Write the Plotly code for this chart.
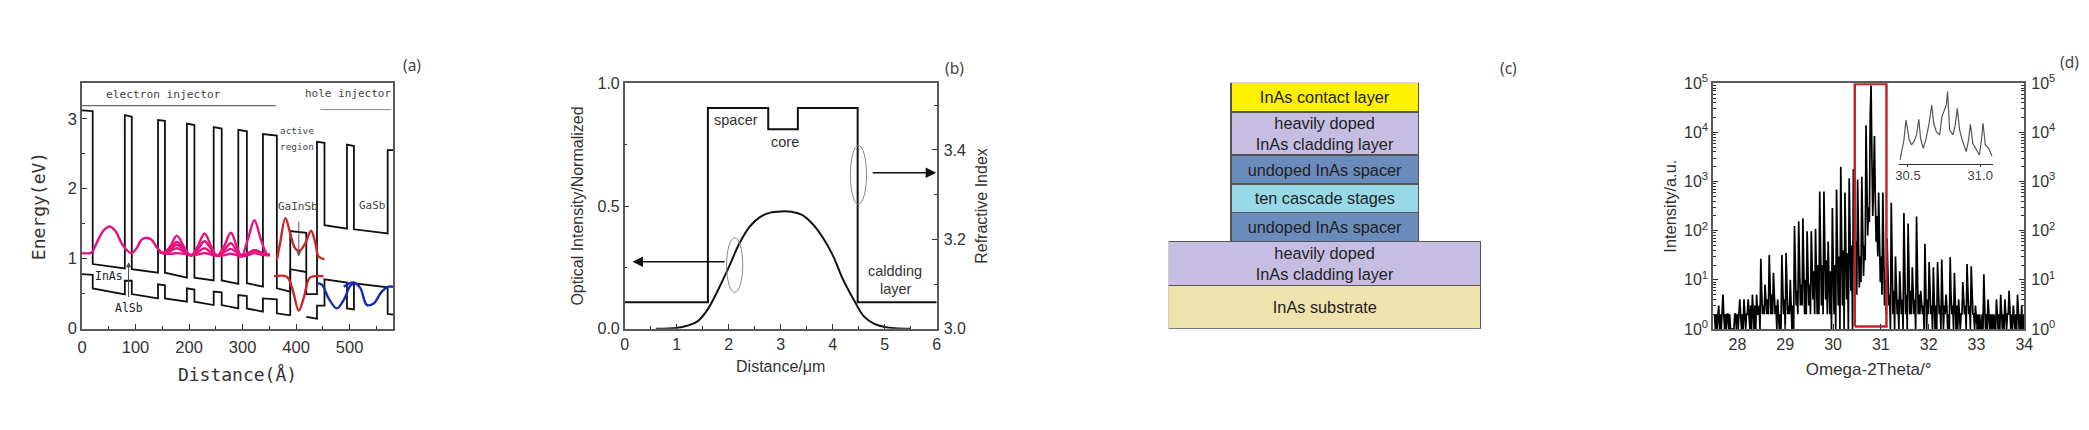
import plotly.graph_objects as go

W, H = 2089, 430
SANS = "Liberation Sans"
MONO = "DejaVu Sans Mono"

# ---------- panel (a) ----------
cb_x = [0,20,20,80,80,93,93,142,142,155,155,196,196,210,210,246,246,261,261,292,292,308,308,338,338,364,364,389,389,419,419,439,439,453,453,495,495,508,508,571,571,581]
cb_e = [3.12,3.11,.924,.86,3.05,3.03,.85,.80,2.98,2.97,.80,.73,2.93,2.91,.73,.69,2.88,2.86,.69,.64,2.84,2.82,.65,.60,2.78,2.76,.576,.53,1.395,1.37,.495,.495,2.67,2.655,1.48,1.43,2.63,2.61,1.42,1.36,2.55,2.55]
vb_x = [0,20,20,80,80,93,93,142,142,155,155,196,196,210,210,246,246,261,261,292,292,308,308,338,338,364,364,389]
vb_e = [.78,.77,.576,.49,.685,.685,.495,.433,.633,.62,.433,.386,.576,.56,.386,.338,.53,.52,.338,.29,.48,.467,.29,.243,.433,.42,.22,.19]
vb2_x = [419,439,439,453,453,495,495,508,508,571,571,581]
vb2_e = [.17,.143,.33,.33,.705,.66,.29,.276,.648,.59,.21,.2]
act_x = [389,389,419]
act_e = [.19,.85,.81]
rule1_x, rule1_e = [0,362], [3.186,3.186]
rule2_x, rule2_e = [446,577], [3.13,3.13]

p1_x = [0,18,27,40,51,62,74,84,93,102,111,120,130,141,152,165,178,190,205]
p1_e = [1.08,1.09,1.22,1.40,1.46,1.40,1.22,1.12,1.08,1.15,1.27,1.30,1.27,1.15,1.08,1.07,1.08,1.07,1.05]
pk_x = [145,152,165,177,190,203,215,229,241,252,265,278,289,298,310,322,334,345,351]
pk_a = [1.10,1.08,1.18,1.33,1.18,1.04,1.16,1.36,1.18,1.04,1.17,1.37,1.18,1.03,1.28,1.55,1.28,1.07,1.05]
pk_b = [1.10,1.08,1.15,1.24,1.15,1.05,1.12,1.25,1.14,1.05,1.12,1.22,1.12,1.05,1.08,1.12,1.09,1.06,1.06]
pk_c = [1.10,1.08,1.13,1.20,1.13,1.05,1.09,1.15,1.09,1.05,1.09,1.14,1.09,1.05,1.07,1.12,1.09,1.06,1.06]
pk_d = [1.10,1.08,1.11,1.15,1.10,1.05,1.06,1.08,1.06,1.04,1.05,1.07,1.05,1.03,1.05,1.08,1.06,1.05,1.05]
r1_x = [364,370,380,389,398,406,417,428,436,442,453]
r1_e = [.98,1.22,1.58,1.36,1.15,1.11,1.22,1.40,1.22,1.03,.99]
r2_x = [359,383,393,405,415,426,451]
r2_e = [.75,.74,.57,.26,.46,.73,.75]
b1_x = [439,448,461,476,489,501,511]
b1_e = [.65,.63,.43,.29,.41,.61,.66]
b2_x = [489,507,520,532,545,560,573,581]
b2_e = [.60,.66,.58,.34,.36,.53,.60,.60]

# ---------- panel (b) ----------
n_x = [0,1.6,1.6,2.76,2.76,3.33,3.33,4.48,4.48,6]
n_y = [3.059,3.059,3.494,3.494,3.446,3.446,3.494,3.494,3.059,3.059]
mode_x = [0.6,1.0,1.2,1.4,1.6,1.8,2.0,2.2,2.4,2.6,2.8,3.0,3.2,3.4,3.6,3.8,4.0,4.2,4.4,4.6,4.8,5.0,5.2,5.5]
mode_y = [0,.003,.012,.03,.08,.16,.25,.345,.415,.455,.473,.478,.477,.465,.43,.375,.30,.20,.12,.05,.02,.007,.002,0]

# ---------- panel (c) ----------
layer_names = ["InAs substrate","heavily doped<br>InAs cladding layer","undoped InAs spacer","ten cascade stages","undoped InAs spacer","heavily doped<br>InAs cladding layer","InAs contact layer"]
layer_thick = [130,131,87,86,87,129,88]
layer_width = [937,937,563,563,563,563,563]
layer_color = ["#EFE3AD","#C5BEE2","#6A8CBC","#98D9E8","#6A8CBC","#C5BEE2","#FFF200"]

# ---------- panel (d) ----------
spec_start, spec_step = 27.522, 0.0176
spec_rows = [
[2,1,2,1,2],[3,1,2,1,2],[5,2,1,2,1],[2,2,1,2,1],[1,1,1,1,2],[2,1,2,1,2],[4,2,1,2,1],[4,2,1,2,2],
[4,2,1,3,1],[5,2,1,3,1],[5,2,2,3,1],[27,6,2,3,2],[8,3,2,4,2],[32,7,2,5,2],[14,4,2,3,1],[4,2,1,2,1],
[32,6,2,4,1],[35,7,2,3,2],[10,3,1,3,1],[125,12,3,6,2],[155,15,3,8,3],[180,14,2,10,2],[97,12,3,8,2],[97,14,4,15,2],
[110,12,2,20,2],[630,30,3,20,2],[630,40,4,25,2],[60,10,2,15,1],[290,18,2,20,1],[690,40,3,30,1],[2000,60,3,40,1],[600,45,4,35,1],
[1170,70,6,50,1],[1800,100,8,60,5],[1100,50,7,30,9],[1250,80,12,50,25],[14000,700,80,300,150],[22000,90000,3000,200,1000],[8500,500,60,200,30],[600,40,9,30,5],
[600,20,3,10,2],[70,8,3,5,1],[370,12,2,6,1],[30,6,2,4,1],[15,5,2,4,1],[230,10,2,5,1],[140,8,2,6,2],[18,5,2,4,1],
[195,9,2,5,2],[6,3,2,3,1],[54,6,1,4,2],[23,5,2,3,1],[18,4,1,3,1],[23,5,2,3,1],[26,5,1,3,2],[5,3,1,2,1],
[29,5,2,3,1],[14,4,1,3,1],[4,2,1,2,2],[9,3,2,3,1],[21,4,2,3,1],[19,5,2,2,1],[3,2,1,2,1],[2,1,1,2,1],
[13,3,1,2,1],[4,2,1,2,1],[2,1,2,1,1],[4,2,1,2,1],[5,2,1,2,1],[4,2,1,2,2],[6,2,1,2,1],[3,2,1,2,1],[5,2,1,2,1],[3,1,2,1,2],
]
spec_y = [v for row in spec_rows for v in row]
spec_x = [spec_start + i * spec_step for i in range(len(spec_y))]
box_x = [30.455,31.117,31.117,30.455,30.455]
box_y = [1.12,1.12,97000,97000,1.12]
inset_x = [30.445,30.458,30.472,30.486,30.495,30.509,30.525,30.541,30.559,30.575,30.587,30.605,30.623,30.646,30.664,30.678,30.696,30.719,30.735,30.756,30.765,30.774,30.788,30.811,30.827,30.841,30.857,30.875,30.903,30.919,30.932,30.948,30.976,30.994,31.008,31.019,31.035,31.058,31.081]
inset_y = [.30,.99,1.67,3.05,2.36,1.67,1.33,1.56,2.02,3.10,1.79,1.10,1.67,2.82,4.08,2.82,2.25,2.02,3.28,3.85,4.08,5.0,2.36,2.02,2.71,3.85,2.36,1.67,.87,1.67,2.75,1.45,.99,.64,1.67,2.82,1.33,1.10,.57]
log_ticks = [1,10,100,1000,10000,100000]
log_text = ["10<sup>%d</sup>" % i for i in range(6)]


def hd(x0, x1):
    return [x0 / W, x1 / W]


def vd(top, bottom):
    return [1 - bottom / H, 1 - top / H]


fig = go.Figure()
FRAME = dict(showline=True, mirror=True, linecolor="#5a5a5a", linewidth=1.5, showgrid=False, zeroline=False,
             ticks="inside", ticklen=5, tickwidth=1, tickcolor="#333", automargin=False)

# (a)
PINK, RED, BLUE = "#E8127F", "#C8282C", "#1A2AB0"
for xs, ys in [(cb_x, cb_e), (vb_x, vb_e), (vb2_x, vb2_e), (act_x, act_e)]:
    fig.add_trace(go.Scatter(x=xs, y=ys, mode="lines", line=dict(color="#111", width=1.8), xaxis="x", yaxis="y"))
fig.add_trace(go.Scatter(x=rule1_x, y=rule1_e, mode="lines", line=dict(color="#444", width=1), xaxis="x", yaxis="y"))
fig.add_trace(go.Scatter(x=rule2_x, y=rule2_e, mode="lines", line=dict(color="#888", width=1), xaxis="x", yaxis="y"))
for xs, ys, c in [(p1_x, p1_e, PINK), (pk_x, pk_d, PINK), (pk_x, pk_c, PINK), (pk_x, pk_b, PINK), (pk_x, pk_a, PINK),
                  (r1_x, r1_e, RED), (r2_x, r2_e, RED), (b1_x, b1_e, BLUE), (b2_x, b2_e, BLUE)]:
    fig.add_trace(go.Scatter(x=xs, y=ys, mode="lines", line=dict(color=c, width=2.4, shape="spline"), xaxis="x", yaxis="y"))

# (b)
fig.add_trace(go.Scatter(x=mode_x, y=mode_y, mode="lines", line=dict(color="#111", width=2, shape="spline"), xaxis="x2", yaxis="y2"))
fig.add_trace(go.Scatter(x=n_x, y=n_y, mode="lines", line=dict(color="#111", width=2), xaxis="x2", yaxis="y3"))

# (c)
for name, t, wd, col in zip(layer_names, layer_thick, layer_width, layer_color):
    fig.add_trace(go.Bar(x=[0], y=[t], width=[wd], marker=dict(color=col, line=dict(color="#555", width=1.2)),
                         text=[name], textposition="inside", insidetextanchor="middle", textangle=0,
                         constraintext="none", textfont=dict(family=SANS, size=16.3, color="#222"),
                         xaxis="x3", yaxis="y4"))

# (d)
fig.add_trace(go.Scatter(x=spec_x, y=spec_y, mode="lines", line=dict(color="#000", width=1.7), xaxis="x4", yaxis="y5"))
fig.add_trace(go.Scatter(x=box_x, y=box_y, mode="lines", line=dict(color="#C0272D", width=2.5), xaxis="x4", yaxis="y6"))
fig.add_trace(go.Scatter(x=inset_x, y=inset_y, mode="lines", line=dict(color="#555", width=1.2), xaxis="x5", yaxis="y7"))

layout = dict(
    template="none",
    width=W, height=H, margin=dict(l=0, r=0, t=0, b=0, pad=0), autosize=False, showlegend=False,
    paper_bgcolor="white", plot_bgcolor="white", barmode="stack",
    font=dict(family=SANS, color="#333"),
    xaxis=dict(FRAME, domain=hd(82, 393), range=[0, 581], dtick=100, minor=dict(ticks="inside", dtick=50, ticklen=3, tickcolor="#333"),
               ticklabelstandoff=3, tickfont=dict(size=16.5, family=SANS), title=dict(text="Distance(Å)", font=dict(family=MONO, size=18), standoff=13), anchor="y"),
    yaxis=dict(FRAME, domain=vd(83.3, 328.7), range=[0, 3.506], dtick=1, minor=dict(ticks="inside", dtick=.5, ticklen=3, tickcolor="#333"),
               tickfont=dict(size=16.5, family=SANS), title=dict(text="Energy(eV)", font=dict(family=MONO, size=18), standoff=17), anchor="x"),
    xaxis2=dict(FRAME, domain=hd(624.7, 936.7), range=[0, 6], dtick=1, minor=dict(ticks="inside", dtick=.5, ticklen=3, tickcolor="#333"),
                tickfont=dict(size=16), title=dict(text="Distance/μm", font=dict(size=16), standoff=9), anchor="y2"),
    yaxis2=dict(FRAME, domain=vd(83.3, 328.7), range=[0, 1], tickvals=[0, .5, 1], ticktext=["0.0", "0.5", "1.0"], minor=dict(ticks="inside", dtick=.25, ticklen=3, tickcolor="#333"),
                tickfont=dict(size=16), title=dict(text="Optical Intensity/Normalized", font=dict(size=16), standoff=10), anchor="x2"),
    yaxis3=dict(domain=vd(83.3, 328.7), range=[3, 3.549], overlaying="y2", side="right", anchor="x2", showgrid=False, zeroline=False, automargin=False,
                tickvals=[3, 3.2, 3.4], ticktext=["3.0", "3.2", "3.4"], ticks="inside", ticklen=5, tickcolor="#333",
                minor=dict(ticks="inside", tickvals=[3.1, 3.3, 3.5], ticklen=3, tickcolor="#333"), ticklabelstandoff=6,
                tickfont=dict(size=16), title=dict(text="Refractive Index", font=dict(size=16), standoff=10)),
    xaxis3=dict(domain=hd(1168.7, 1481), range=[-468.5, 468.5], visible=False, anchor="y4", fixedrange=True, automargin=False),
    yaxis4=dict(domain=vd(82.7, 328.7), range=[0, 738], visible=False, anchor="x3", fixedrange=True, automargin=False),
    xaxis4=dict(FRAME, domain=hd(1713, 2024.3), range=[27.49, 34], dtick=1, tickfont=dict(size=16),
                title=dict(text="Omega-2Theta/°", font=dict(size=17), standoff=11), anchor="y5"),
    yaxis5=dict(FRAME, domain=vd(83.3, 329), type="log", range=[0, 5], tickmode="array", tickvals=log_ticks, ticktext=log_text,
                minor=dict(ticks="inside", dtick="D1", ticklen=3, tickcolor="#333"), tickfont=dict(size=16),
                title=dict(text="Intensity/a.u.", font=dict(size=16.4), standoff=3), anchor="x4"),
    yaxis6=dict(domain=vd(83.3, 329), type="log", range=[0, 5], overlaying="y5", side="right", anchor="x4", showgrid=False, zeroline=False, automargin=False,
                tickmode="array", tickvals=log_ticks, ticktext=log_text, ticks="inside", ticklen=5, tickcolor="#333", ticklabelstandoff=6,
                minor=dict(ticks="inside", dtick="D1", ticklen=3, tickcolor="#333"), tickfont=dict(size=16)),
    xaxis5=dict(domain=hd(1899.3, 1993.3), range=[30.44, 31.09], tickvals=[30.5, 31.0], ticktext=["30.5", "31.0"], tickfont=dict(size=13, color="#444"),
                showline=True, linecolor="#333", linewidth=1, ticks="outside", ticklen=2, showgrid=False, zeroline=False, anchor="y7", automargin=False,
                ticklabelstandoff=-3),
    yaxis7=dict(domain=vd(88.7, 164.3), range=[0, 5.2], visible=False, anchor="x5", automargin=False),
)
fig.update_layout(**layout)

# ellipses in panel (b)
for x0, x1, y0, y1 in [(1.96, 2.27, .148, .371), (4.34, 4.65, .507, .747)]:
    fig.add_shape(type="circle", xref="x2", yref="y2", x0=x0, x1=x1, y0=y0, y1=y1, line=dict(color="#888", width=1))


def note(text, x, y, xr, yr, size, fam=SANS, color="#333"):
    fig.add_annotation(text=text, x=x, y=y, xref=xr, yref=yr, showarrow=False, xanchor="center", yanchor="middle",
                       font=dict(family=fam, size=size, color=color))


def line_note(x, y, ax, ay, xr, yr, color="#111", width=1.5, head=2, size=1.0):
    fig.add_annotation(text="", x=x, y=y, ax=ax, ay=ay, xref=xr, yref=yr, axref=xr, ayref=yr, showarrow=True,
                       arrowhead=head, arrowsize=size, arrowwidth=width, arrowcolor=color)


# panel (a) texts
note("electron injector", 152, 3.35, "x", "y", 11.2, MONO, "#444")
note("hole injector", 497.5, 3.36, "x", "y", 11, MONO, "#444")
note("active", 401, 2.83, "x", "y", 9.4, MONO, "#444")
note("region", 401, 2.60, "x", "y", 9.4, MONO, "#444")
note("GaInSb", 403, 1.74, "x", "y", 11, MONO, "#444")
note("GaSb", 542, 1.76, "x", "y", 11, MONO, "#444")
note("InAs", 51, .757, "x", "y", 11.5, MONO, "#222")
note("AlSb", 88.5, .30, "x", "y", 11.5, MONO, "#222")
line_note(87, .95, 87, .43, "x", "y", color="#444", width=1, head=2)
line_note(405, 1.03, 405, 1.55, "x", "y", color="#555", width=1, head=2)

# panel (b) texts
note("spacer", 2.14, .85, "x2", "y2", 14.5)
note("core", 3.08, .762, "x2", "y2", 14.5)
note("caldding", 5.19, .235, "x2", "y2", 14.5)
note("layer", 5.22, .163, "x2", "y2", 14.5)
line_note(.15, .273, 1.95, .273, "x2", "y2", width=1.5, size=1.4)
line_note(5.99, .636, 4.74, .636, "x2", "y2", width=1.5, size=1.4)

# panel labels
for lab, px, py in [("(a)", 411.7, 65), ("(b)", 954.7, 68), ("(c)", 1508.7, 67.7), ("(d)", 2069, 61.7)]:
    note(lab, px / W, 1 - py / H, "paper", "paper", 15.5, "Noto Sans", "#444")

fig.write_html("out.html", config=dict(displayModeBar=False),
               post_script="document.body.style.margin='0';document.body.style.overflow='hidden';")
